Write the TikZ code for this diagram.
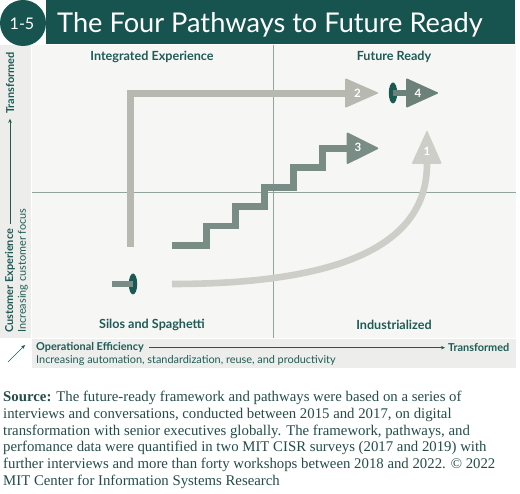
\documentclass[tikz,border=0pt]{standalone}
\usepackage{fontspec}
\setmainfont{Liberation Serif}
\newfontfamily\gfont{Lato}
\usetikzlibrary{arrows.meta}
\definecolor{tealdark}{HTML}{17544F}
\definecolor{labelteal}{HTML}{1E5B56}
\definecolor{ctwo}{HTML}{B7B9B1}
\definecolor{cone}{HTML}{CDCEC8}
\definecolor{cthree}{HTML}{7A8C86}
\definecolor{cfour}{HTML}{6D817B}
\definecolor{cell}{HTML}{1A5954}
\definecolor{divider}{HTML}{93A39E}
\definecolor{panelbg}{HTML}{F6F6F4}
\definecolor{bandbg}{HTML}{EDEDEB}
\definecolor{srctext}{HTML}{244D48}
\tikzset{
  qlabel/.style={text=labelteal, font=\gfont\bfseries\fontsize{12.6}{14}\selectfont, inner sep=0},
  axbold/.style={text=labelteal, font=\gfont\bfseries\fontsize{10.9}{12}\selectfont, inner sep=0},
  axreg/.style={text=labelteal, font=\gfont\fontsize{10.9}{12}\selectfont, inner sep=0},
  axline/.style={draw=labelteal, line width=0.7pt, -{Stealth[length=4pt,width=3.5pt]}},
  pathline/.style={line width=6.6pt, line cap=butt, line join=miter},
  headshape/.style={rounded corners=1.2pt},
  numlabel/.style={text=white, font=\gfont\bfseries\fontsize{11.5}{13}\selectfont, inner sep=0},
  srcline/.style={text=srctext, font=\fontsize{14.8}{16}\selectfont, anchor=base west, inner sep=0},
}
\begin{document}
\begin{tikzpicture}[x=1pt,y=-1pt]
\useasboundingbox (0,0) rectangle (520,494);
\fill[white] (0,0) rectangle (520,494);
% backgrounds
\fill[panelbg] (32,45) rectangle (516,338);
\fill[bandbg] (0,45) rectangle (31,338);
\fill[bandbg] (32,339) rectangle (516,368);
% dividers
\draw[divider, line width=0.8pt] (273,45) -- (273,338);
\draw[divider, line width=0.8pt] (32,192) -- (516,192);
% title
\fill[tealdark] (46,0) rectangle (515,44);
\fill[tealdark] (23,23) circle (23);
\node[text=white, font=\gfont\fontsize{16}{18}\selectfont, inner sep=0] (num) at (22,24) {1-5};
\node[text=white, font=\gfont\fontsize{27.2}{30}\selectfont, anchor=base west, inner sep=0] (title) at (57,33) {The Four Pathways to Future Ready};
% quadrant labels
\node[qlabel] (ie) at (152,57) {Integrated Experience};
\node[qlabel] (fr) at (394,57) {Future Ready};
\node[qlabel] (ss) at (152,325) {Silos and Spaghetti};
\node[qlabel] (ind) at (394,325) {Industrialized};
% y axis
\node[axbold, rotate=90] (ytr) at (10,83) {Transformed};
\node[axbold, rotate=90, anchor=west] (ycx) at (10,333) {Customer Experience};
\node[axreg, rotate=90, anchor=west] (ycf) at (23,333) {Increasing customer focus};
\draw[axline, shorten <=5pt, shorten >=5pt] (ycx.east) -- (ytr.west);
% x axis
\node[axbold, anchor=west] (oe) at (36,347.7) {Operational Efficiency};
\node[axbold, anchor=west] (xtr) at (448,347.7) {Transformed};
\node[axreg, anchor=west] (inc) at (36,360) {Increasing automation, standardization, reuse, and productivity};
\draw[axline, shorten <=5pt, shorten >=3pt] (oe.east) -- (xtr.west);
\coordinate (d1) at (8,362);
\coordinate (d2) at (25,345);
\draw[axline] (d1) -- (d2);
% pathway 2
\coordinate (p2a) at (130.7,247);
\coordinate (p2b) at (130.7,93.3);
\coordinate (p2c) at (346,93.3);
\draw[pathline, draw=ctwo] (p2a) -- (p2b) -- (p2c);
\fill[ctwo, headshape] (345,78) -- (379,93) -- (345,108) -- cycle;
\node[numlabel] (n2) at (357.5,93) {2};
% pathway 3
\draw[pathline, draw=cthree] (172,245.7) -- (206.5,245.7) -- (206.5,226) -- (235.7,226) -- (235.7,206.7) -- (264.3,206.7) -- (264.3,187.3) -- (293.3,187.3) -- (293.3,167.7) -- (322.3,167.7) -- (322.3,148.3) -- (347.5,148.3);
\fill[cthree, headshape] (346.7,132) -- (379.3,148.3) -- (346.7,164.5) -- cycle;
\node[numlabel] (n3) at (358,147.5) {3};
% pathway 1
\coordinate (p1a) at (172,284);
\coordinate (p1b) at (427,164);
\draw[pathline, draw=cone] (p1a) .. controls (330,284) and (427,250) .. (p1b);
\fill[cone, headshape] (411.5,164) -- (427,130) -- (442,164) -- cycle;
\node[numlabel] (n1) at (427,151.5) {1};
% start marker
\fill[cell] (133,284) ellipse [x radius=4.2, y radius=10.5];
\draw[pathline, draw=cthree] (112,284) -- (133,284);
% pathway 4
\fill[cell] (393,93) ellipse [x radius=4.2, y radius=10.5];
\draw[pathline, draw=cfour] (393,93) -- (407,93);
\fill[cfour, headshape] (406,78) -- (439,93) -- (406,108) -- cycle;
\node[numlabel] (n4) at (418,93) {4};
% source
\node[srcline] (s1) at (3,401.5) {\textbf{Source:} The future-ready framework and pathways were based on a series of};
\node[srcline] (s2) at (3,418.3) {interviews and conversations, conducted between 2015 and 2017, on digital};
\node[srcline] (s3) at (3,435.1) {transformation with senior executives globally. The framework, pathways, and};
\node[srcline] (s4) at (3,451.9) {perfomance data were quantified in two MIT CISR surveys (2017 and 2019) with};
\node[srcline] (s5) at (3,468.7) {further interviews and more than forty workshops between 2018 and 2022. \textcopyright{} 2022};
\node[srcline] (s6) at (3,485.5) {MIT Center for Information Systems Research};
\end{tikzpicture}
\end{document}
